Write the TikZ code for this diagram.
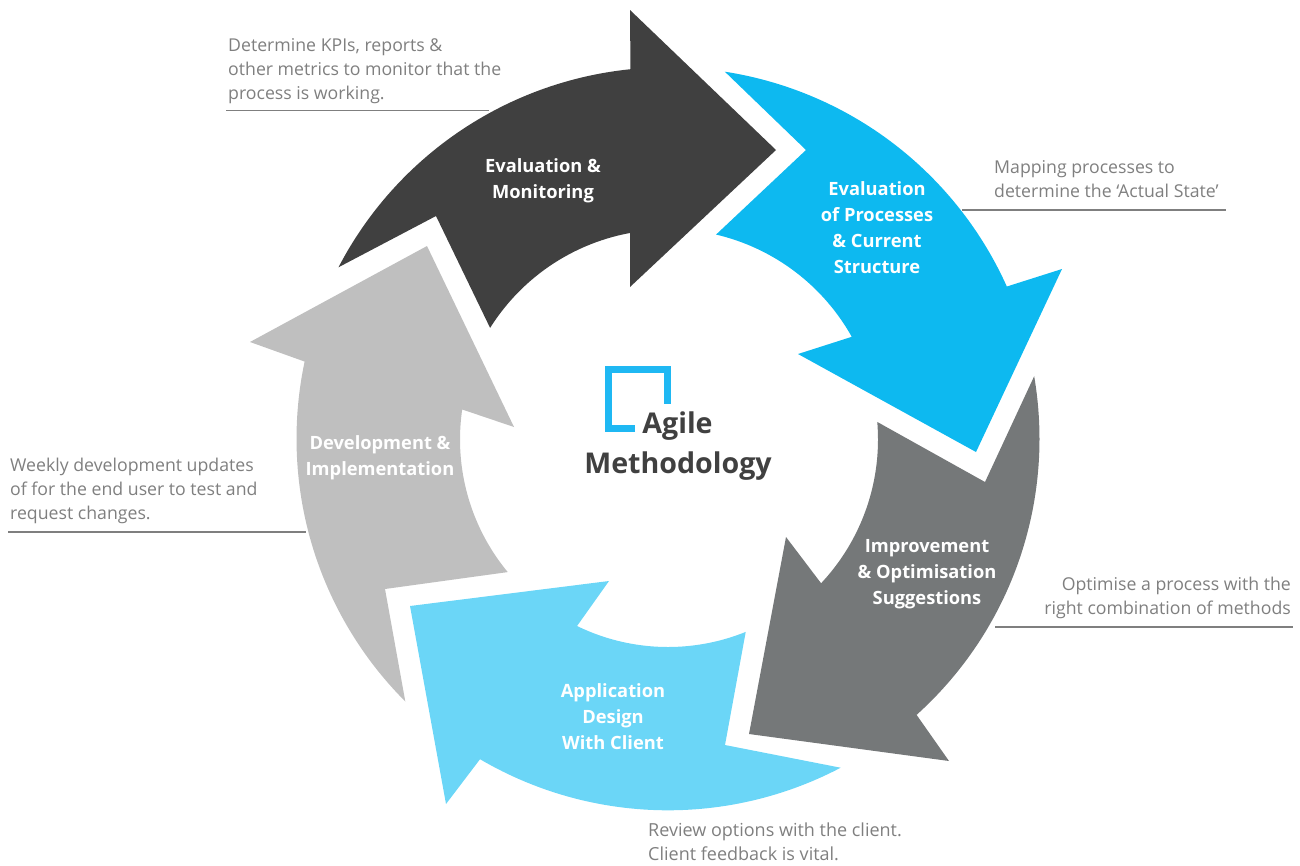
\documentclass[tikz,border=0pt]{standalone}
\usepackage{fontspec}
\setmainfont{Open Sans}
\definecolor{cdark}{HTML}{404040}
\definecolor{cblue}{HTML}{0DB9F0}
\definecolor{cgrey}{HTML}{757879}
\definecolor{clblue}{HTML}{6BD6F7}
\definecolor{clgrey}{HTML}{BFBFBF}
\definecolor{ctext}{HTML}{7F7F7F}
\definecolor{cline}{HTML}{7F7F7F}
\definecolor{clogo}{HTML}{1FB8F3}
\tikzset{
  ringplot/.style={samples=60},
  arrowlabel/.style={text=white,font=\fontsize{18.3}{26}\selectfont\bfseries,align=center,inner sep=0pt},
  titletext/.style={font=\fontsize{28.6}{36}\selectfont\bfseries,text=cdark,inner sep=0pt},
  note/.style={text=ctext,font=\fontsize{17.7}{24}\selectfont,align=left,inner sep=0pt,anchor=north west},
  ruleline/.style={draw=cline,line width=1.6pt},
}
\begin{document}
\begin{tikzpicture}[x=1pt,y=-1pt]
\useasboundingbox (0,0) rectangle (1300,865);
% dark
\fill[cdark] plot[ringplot,domain=152.5:95.8] ({668+371.5*cos(\x)},{438.8-371.5*sin(\x)}) -- (630,10) -- (776,150) -- (630,287) -- plot[ringplot,domain=100.4:147.9] ({668+210*cos(\x)},{439.5-210*sin(\x)}) -- (436,216) -- cycle;
% blue
\fill[cblue] plot[ringplot,domain=81.2:24.2] ({668+371.5*cos(\x)},{438.8-371.5*sin(\x)}) -- (1062,269) -- (976,452) -- (798,354) -- plot[ringplot,domain=29.2:76.8] ({668+210.5*cos(\x)},{439.5-210.5*sin(\x)}) -- (806,150) -- cycle;
% grey
\fill[cgrey] plot[ringplot,domain=9.7:-48] ({668+371.5*cos(\x)},{438.8-371.5*sin(\x)}) -- (949,761) -- (749,734) -- (786,537) -- plot[ringplot,domain=-43.2:4.8] ({668+210*cos(\x)},{439.5-210*sin(\x)}) -- (985,482) -- cycle;
% light blue
\fill[clblue] plot[ringplot,domain=-62.3:-120.4] ({668+371.5*cos(\x)},{438.8-371.5*sin(\x)}) -- (446,804) -- (410,606) -- (609,581) -- plot[ringplot,domain=244:292] ({668+207.5*cos(\x)},{439.5-207.5*sin(\x)}) -- (725,745) -- cycle;
% light grey
\fill[clgrey] plot[ringplot,domain=225:168] ({668+371.5*cos(\x)},{438.8-371.5*sin(\x)}) -- (250,342) -- (427,246) -- (514,427) -- plot[ringplot,domain=171.7:219.6] ({668+208*cos(\x)},{439.5-208*sin(\x)}) -- (385,589) -- cycle;
% logo
\draw[clogo,line width=7pt] (635,428.5) -- (608.5,428.5) -- (608.5,369.5) -- (667,369.5) -- (667,404);
\node[titletext] (agile) at (677.5,426) {Agile};
\node[titletext] (meth) at (678,466) {Methodology};
% labels
\node[arrowlabel] (l1) at (543,180.5) {Evaluation \&\\Monitoring};
\node[arrowlabel] (l2) at (877,228) {Evaluation\\of Processes\\\& Current\\Structure};
\node[arrowlabel] (l3) at (927,574) {Improvement\\\& Optimisation\\Suggestions};
\node[arrowlabel] (l4) at (613,716.5) {Application\\Design\\With Client};
\node[arrowlabel] (l5) at (380,458) {Development \&\\Implementation};
% notes
\node[note] (n1) at (228,38) {Determine KPIs, reports \&\\other metrics to monitor that the\\process is working.};
\coordinate (n1a) at (226,110.5); \coordinate (n1b) at (489,110.5);
\draw[ruleline] (n1a) -- (n1b);
\node[note] (n2) at (994,160) {Mapping processes to\\determine the ‘Actual State’};
\coordinate (n2a) at (962,210); \coordinate (n2b) at (1226,210);
\draw[ruleline] (n2a) -- (n2b);
\node[note,align=right,anchor=north east] (n3) at (1291,577) {Optimise a process with the\\right combination of methods};
\coordinate (n3a) at (995,627); \coordinate (n3b) at (1293,627);
\draw[ruleline] (n3a) -- (n3b);
\node[note,font=\fontsize{18}{24}\selectfont] (n4) at (648,822.5) {Review options with the client.\\Client feedback is vital.};
\node[note] (n5) at (10,458) {Weekly development updates\\of for the end user to test and\\request changes.};
\coordinate (n5a) at (8,532); \coordinate (n5b) at (306,532);
\draw[ruleline] (n5a) -- (n5b);
\end{tikzpicture}
\end{document}
